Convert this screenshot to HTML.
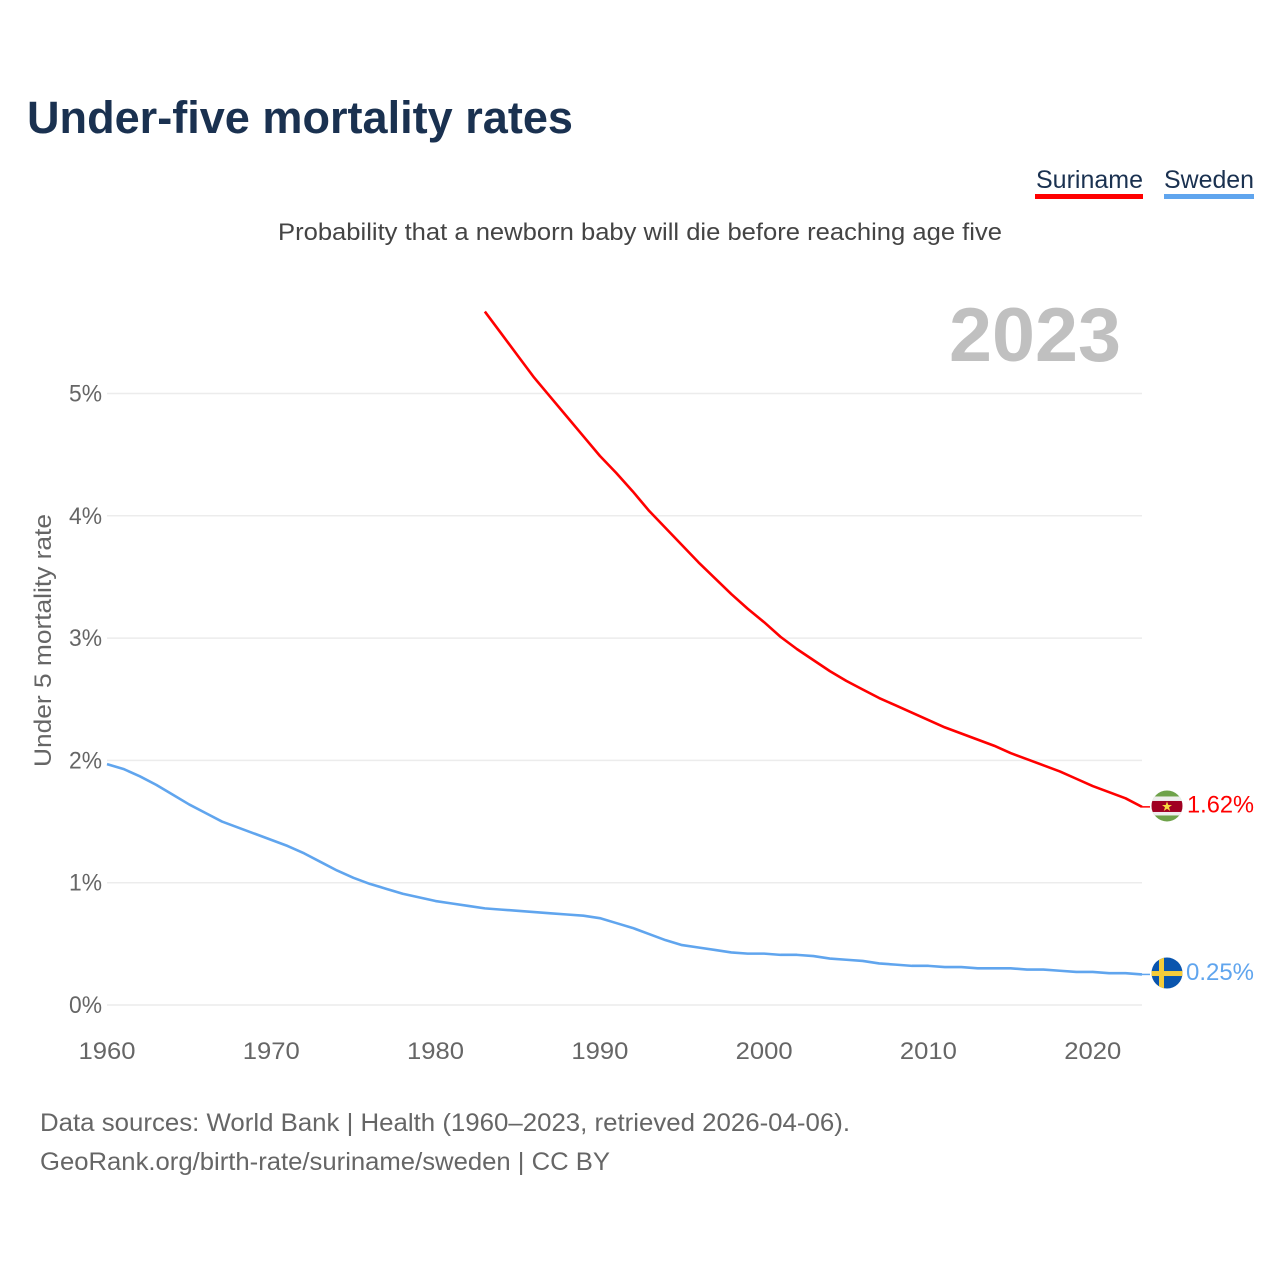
<!DOCTYPE html>
<html lang="en">
<head>
<meta charset="utf-8">
<title>Under-five mortality rates</title>
<style>
html,body{margin:0;padding:0;background:#fff;}
svg{display:block;font-family:"Liberation Sans",sans-serif;}
</style>
</head>
<body>
<svg id="chart" width="1280" height="1280" viewBox="0 0 1280 1280" xmlns="http://www.w3.org/2000/svg">
  <rect width="1280" height="1280" fill="#ffffff"/>
  <text x="27" y="133" font-size="45" font-weight="700" fill="#1a3150" textLength="546" lengthAdjust="spacingAndGlyphs">Under-five mortality rates</text>
  <g>
    <g>
      <text x="1036" y="188" font-size="25" fill="#1a3150" textLength="107" lengthAdjust="spacingAndGlyphs">Suriname</text>
      <rect x="1035" y="194" width="108" height="5" fill="#ff0000"/>
    </g>
    <g>
      <text x="1164" y="188" font-size="25" fill="#1a3150" textLength="90" lengthAdjust="spacingAndGlyphs">Sweden</text>
      <rect x="1164" y="194" width="90" height="5" fill="#60a5ee"/>
    </g>
  </g>
  <text x="278" y="240" font-size="24.5" fill="#444444" textLength="724" lengthAdjust="spacingAndGlyphs">Probability that a newborn baby will die before reaching age five</text>
  <text x="949" y="361" font-size="76" font-weight="700" fill="#c0c0c0" textLength="172" lengthAdjust="spacingAndGlyphs">2023</text>
  <text transform="translate(51,767) rotate(-90)" font-size="24.5" fill="#666666" textLength="253" lengthAdjust="spacingAndGlyphs">Under 5 mortality rate</text>
  <g id="grid"></g>
  <g id="yticks"></g>
  <g id="xticks"></g>
  <g id="series"></g>
  <defs>
    <clipPath id="clip-sr"><circle id="clip-sr-c" cx="1167" cy="806" r="15.5"/></clipPath>
    <clipPath id="clip-se"><circle id="clip-se-c" cx="1167" cy="973" r="15.5"/></clipPath>
  </defs>
  <g id="flag-suriname">
    <g clip-path="url(#clip-sr)">
      <rect x="1151" y="790" width="32" height="32" fill="#6ea24a"/>
      <rect x="1151" y="796.5" width="32" height="19" fill="#eeeeee"/>
      <rect x="1151" y="801" width="32" height="11" fill="#a00022"/>
      <polygon points="1167,801.5 1168.3,805 1172,805 1169,807.3 1170.2,811 1167,808.8 1163.8,811 1165,807.3 1162,805 1165.7,805" fill="#f7d840"/>
    </g>
  </g>
  <g id="flag-sweden">
    <g clip-path="url(#clip-se)">
      <rect x="1151" y="957" width="32" height="32" fill="#0a55ae"/>
      <rect x="1159" y="957" width="5" height="32" fill="#f5cc3a"/>
      <rect x="1151" y="971" width="32" height="5" fill="#f5cc3a"/>
    </g>
  </g>
  <g>
    <text x="40" y="1131" font-size="25" fill="#666666" textLength="810" lengthAdjust="spacingAndGlyphs">Data sources: World Bank | Health (1960–2023, retrieved 2026-04-06).</text>
    <text x="40" y="1170" font-size="25" fill="#666666" textLength="570" lengthAdjust="spacingAndGlyphs">GeoRank.org/birth-rate/suriname/sweden | CC BY</text>
  </g>
</svg>
<script>
var swedenStart = 1960;
var swedenValues = [1.97,1.93,1.87,1.80,1.72,1.64,1.57,1.50,1.45,1.40,1.35,1.30,1.24,1.17,1.10,1.04,0.99,0.95,0.91,0.88,0.85,0.83,0.81,0.79,0.78,0.77,0.76,0.75,0.74,0.73,0.71,0.67,0.63,0.58,0.53,0.49,0.47,0.45,0.43,0.42,0.42,0.41,0.41,0.40,0.38,0.37,0.36,0.34,0.33,0.32,0.32,0.31,0.31,0.30,0.30,0.30,0.29,0.29,0.28,0.27,0.27,0.26,0.26,0.25];
var surinameStart = 1983;
var surinameValues = [5.67,5.49,5.31,5.13,4.97,4.81,4.65,4.49,4.35,4.20,4.04,3.90,3.76,3.62,3.49,3.36,3.24,3.13,3.01,2.91,2.82,2.73,2.65,2.58,2.51,2.45,2.39,2.33,2.27,2.22,2.17,2.12,2.06,2.01,1.96,1.91,1.85,1.79,1.74,1.69,1.62];
var yTickValues = [0,1,2,3,4,5];
var xTickValues = [1960,1970,1980,1990,2000,2010,2020];

var NS = 'http://www.w3.org/2000/svg';
function xScale(year){ return 107 + (year - 1960) * (1142 - 107) / 63; }
function yScale(v){ return 1005 - v * 122.3; }
function make(tag, attrs, parent){
  var el = document.createElementNS(NS, tag);
  for (var k in attrs) el.setAttribute(k, attrs[k]);
  parent.appendChild(el);
  return el;
}
var gridG = document.getElementById('grid');
var yG = document.getElementById('yticks');
var xG = document.getElementById('xticks');
var seriesG = document.getElementById('series');

yTickValues.forEach(function(v){
  var line = make('line', {x1:107, x2:1142, y1:yScale(v), y2:yScale(v), stroke:'#ececec', 'stroke-width':1.5}, gridG);
  
  
  var t = make('text', {x:102, y:yScale(v)+8, 'text-anchor':'end', 'font-size':24.5, fill:'#666666', textLength:33, lengthAdjust:'spacingAndGlyphs'}, yG);
  t.textContent = v + '%';
  
  
});

xTickValues.forEach(function(y){
  var t = make('text', {x:xScale(y), y:1059, 'text-anchor':'middle', 'font-size':24.5, fill:'#666666', textLength:57, lengthAdjust:'spacingAndGlyphs'}, xG);
  t.textContent = String(y);
  
  
});

function linePath(values, start){
  return values.map(function(v, i){
    return (i ? 'L' : 'M') + xScale(start + i).toFixed(2) + ' ' + yScale(v).toFixed(2);
  }).join(' ');
}

var swedenLine = make('path', {d:linePath(swedenValues, swedenStart), fill:'none', stroke:'#60a5ee', 'stroke-width':2.6, 'stroke-linejoin':'round'}, seriesG);



var surinameLine = make('path', {d:linePath(surinameValues, surinameStart), fill:'none', stroke:'#ff0000', 'stroke-width':2.6, 'stroke-linejoin':'round'}, seriesG);



var srLast = surinameValues[surinameValues.length - 1];
var seLast = swedenValues[swedenValues.length - 1];

var srLead = make('line', {x1:1142, x2:1150, y1:yScale(srLast), y2:yScale(srLast), stroke:'#ff0000', 'stroke-width':1.5}, seriesG);



var seLead = make('line', {x1:1142, x2:1150, y1:yScale(seLast), y2:yScale(seLast), stroke:'#60a5ee', 'stroke-width':1.5}, seriesG);



var srLabel = make('text', {x:1187, y:yScale(srLast)+5.5, 'font-size':24.5, fill:'#ff0000', textLength:67, lengthAdjust:'spacingAndGlyphs'}, seriesG);
srLabel.textContent = srLast.toFixed(2) + '%';



var seLabel = make('text', {x:1186, y:yScale(seLast)+5.5, 'font-size':24.5, fill:'#60a5ee', textLength:68, lengthAdjust:'spacingAndGlyphs'}, seriesG);
seLabel.textContent = seLast.toFixed(2) + '%';



document.getElementById('flag-suriname').setAttribute('transform', 'translate(0,' + (yScale(srLast) - 806.9).toFixed(2) + ')');
document.getElementById('flag-sweden').setAttribute('transform', 'translate(0,' + (yScale(seLast) - 974.4).toFixed(2) + ')');
</script>
</body>
</html>
